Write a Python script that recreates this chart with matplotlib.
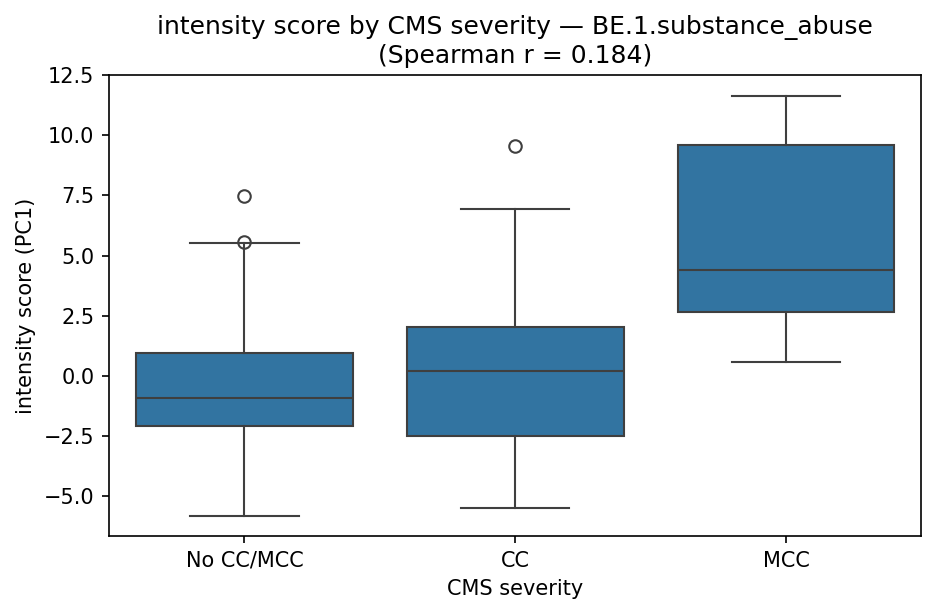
import matplotlib
matplotlib.use("Agg")
import matplotlib.pyplot as plt

categories = ["No CC/MCC", "CC", "MCC"]
q1 = [-2.08, -2.49, 2.66]
median = [-0.91, 0.21, 4.41]
q3 = [0.96, 2.04, 9.60]
whislo = [-5.82, -5.49, 0.58]
whishi = [5.53, 6.94, 11.64]
fliers = [[7.48, 5.56], [9.56], []]

box_color = "#3274a1"
line_color = "#3f3f3f"

fig, ax = plt.subplots(figsize=(6.25, 4.1), dpi=150)
stats = []
for i, c in enumerate(categories):
    stats.append(dict(label=c, q1=q1[i], med=median[i], q3=q3[i],
                      whislo=whislo[i], whishi=whishi[i], fliers=fliers[i]))

ax.bxp(stats, positions=range(len(categories)), widths=0.8, patch_artist=True,
       boxprops=dict(facecolor=box_color, edgecolor=line_color, linewidth=1.0),
       medianprops=dict(color=line_color, linewidth=1.0),
       whiskerprops=dict(color=line_color, linewidth=1.0),
       capprops=dict(color=line_color, linewidth=1.0),
       capwidths=0.4,
       flierprops=dict(marker="o", markerfacecolor="none", markeredgecolor=line_color,
                       markersize=6, markeredgewidth=1.0))

ax.set_xlim(-0.5, 2.5)
ax.set_ylim(-6.65, 12.5)
ax.set_yticks([-5.0, -2.5, 0.0, 2.5, 5.0, 7.5, 10.0, 12.5])
ax.set_xticks(range(len(categories)))
ax.set_xticklabels(categories)
ax.set_xlabel("CMS severity")
ax.set_ylabel("intensity score (PC1)")
ax.set_title("intensity score by CMS severity — BE.1.substance_abuse\n(Spearman r = 0.184)")

fig.subplots_adjust(left=109/937, right=921/937, top=1-75/615, bottom=1-536/615)
fig.savefig("out.png", dpi=150)
